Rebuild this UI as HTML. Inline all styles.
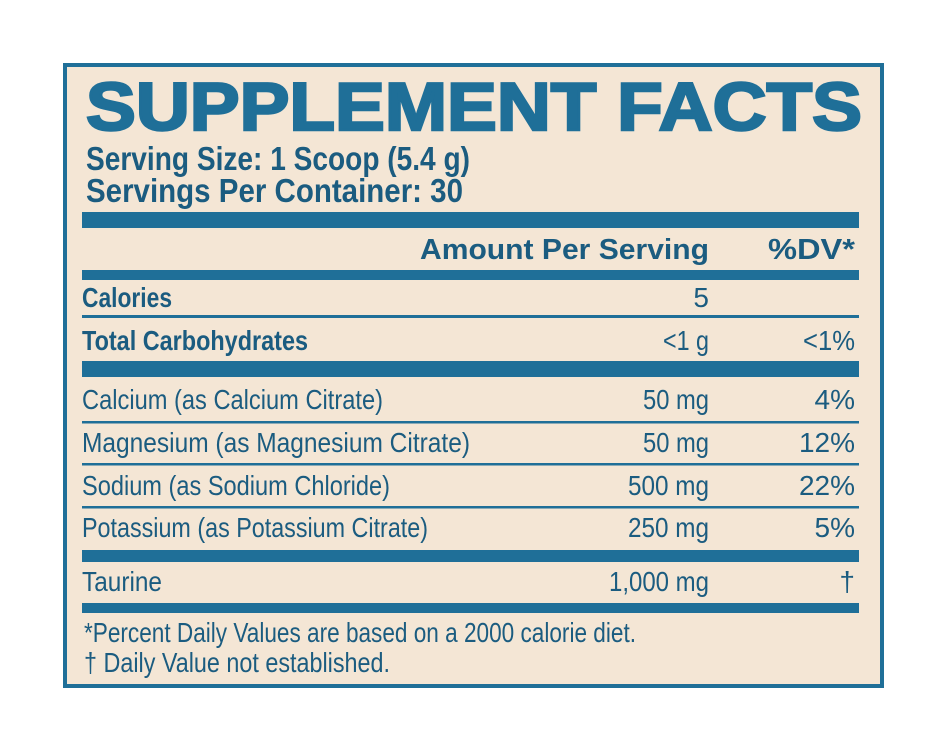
<!DOCTYPE html>
<html><head><meta charset="utf-8"><style>
html,body{margin:0;padding:0;background:#fff;}
svg{display:block}
text{font-family:"Liberation Sans",sans-serif;fill:#1b5c80}
.b{font-weight:bold}
</style></head><body>
<svg width="947" height="752" viewBox="0 0 947 752" xmlns="http://www.w3.org/2000/svg">
<rect x="0" y="0" width="947" height="752" fill="#fff"/>
<rect x="65" y="65" width="817" height="621" fill="#f4e6d5" stroke="#1f6f98" stroke-width="4"/>
<text x="86" y="130" class="b" font-size="68" textLength="776" lengthAdjust="spacingAndGlyphs" style="fill:#1f6f98;font-weight:900" stroke="#1f6f98" stroke-width="2.5">SUPPLEMENT FACTS</text>
<text x="86" y="170" class="b" font-size="33" textLength="384" lengthAdjust="spacingAndGlyphs">Serving Size: 1 Scoop (5.4 g)</text>
<text x="86" y="202" class="b" font-size="33" textLength="377" lengthAdjust="spacingAndGlyphs">Servings Per Container: 30</text>
<g fill="#1f6f98">
<rect x="82" y="212" width="777" height="16"/>
<rect x="82" y="270" width="777" height="10"/>
<rect x="82" y="315" width="777" height="3"/>
<rect x="82" y="361" width="777" height="16"/>
<rect x="82" y="421" width="777" height="2.5"/>
<rect x="82" y="463" width="777" height="2.5"/>
<rect x="82" y="506" width="777" height="2.5"/>
<rect x="82" y="550" width="777" height="12"/>
<rect x="82" y="603" width="777" height="10"/>
</g>
<text x="420" y="259" class="b" font-size="29" textLength="289" lengthAdjust="spacingAndGlyphs">Amount Per Serving</text>
<text x="768" y="259" class="b" font-size="29" textLength="87" lengthAdjust="spacingAndGlyphs">%DV*</text>
<text x="82" y="307" class="b" font-size="28" textLength="90" lengthAdjust="spacingAndGlyphs">Calories</text>
<text x="709" y="307" font-size="28" text-anchor="end">5</text>
<text x="82" y="350" class="b" font-size="28" textLength="226" lengthAdjust="spacingAndGlyphs">Total Carbohydrates</text>
<text x="663" y="350" font-size="28" textLength="46" lengthAdjust="spacingAndGlyphs">&lt;1 g</text>
<text x="803" y="350" font-size="28" textLength="52" lengthAdjust="spacingAndGlyphs">&lt;1%</text>
<g font-size="28">
<text x="82" y="409" textLength="301" lengthAdjust="spacingAndGlyphs">Calcium (as Calcium Citrate)</text>
<text x="643" y="409" textLength="66" lengthAdjust="spacingAndGlyphs">50 mg</text>
<text x="855" y="409" text-anchor="end">4%</text>
<text x="82" y="452" textLength="388" lengthAdjust="spacingAndGlyphs">Magnesium (as Magnesium Citrate)</text>
<text x="643" y="452" textLength="66" lengthAdjust="spacingAndGlyphs">50 mg</text>
<text x="855" y="452" text-anchor="end">12%</text>
<text x="82" y="495" textLength="308" lengthAdjust="spacingAndGlyphs">Sodium (as Sodium Chloride)</text>
<text x="628" y="495" textLength="81" lengthAdjust="spacingAndGlyphs">500 mg</text>
<text x="855" y="495" text-anchor="end">22%</text>
<text x="82" y="537" textLength="346" lengthAdjust="spacingAndGlyphs">Potassium (as Potassium Citrate)</text>
<text x="628" y="537" textLength="81" lengthAdjust="spacingAndGlyphs">250 mg</text>
<text x="855" y="537" text-anchor="end">5%</text>
<text x="82" y="591" textLength="80" lengthAdjust="spacingAndGlyphs">Taurine</text>
<text x="609" y="591" textLength="100" lengthAdjust="spacingAndGlyphs">1,000 mg</text>
<text x="855" y="591" text-anchor="end">†</text>
<text x="84" y="642" textLength="552" lengthAdjust="spacingAndGlyphs">*Percent Daily Values are based on a 2000 calorie diet.</text>
<text x="84" y="672" textLength="306" lengthAdjust="spacingAndGlyphs">† Daily Value not established.</text>
</g>
</svg>
</body></html>
